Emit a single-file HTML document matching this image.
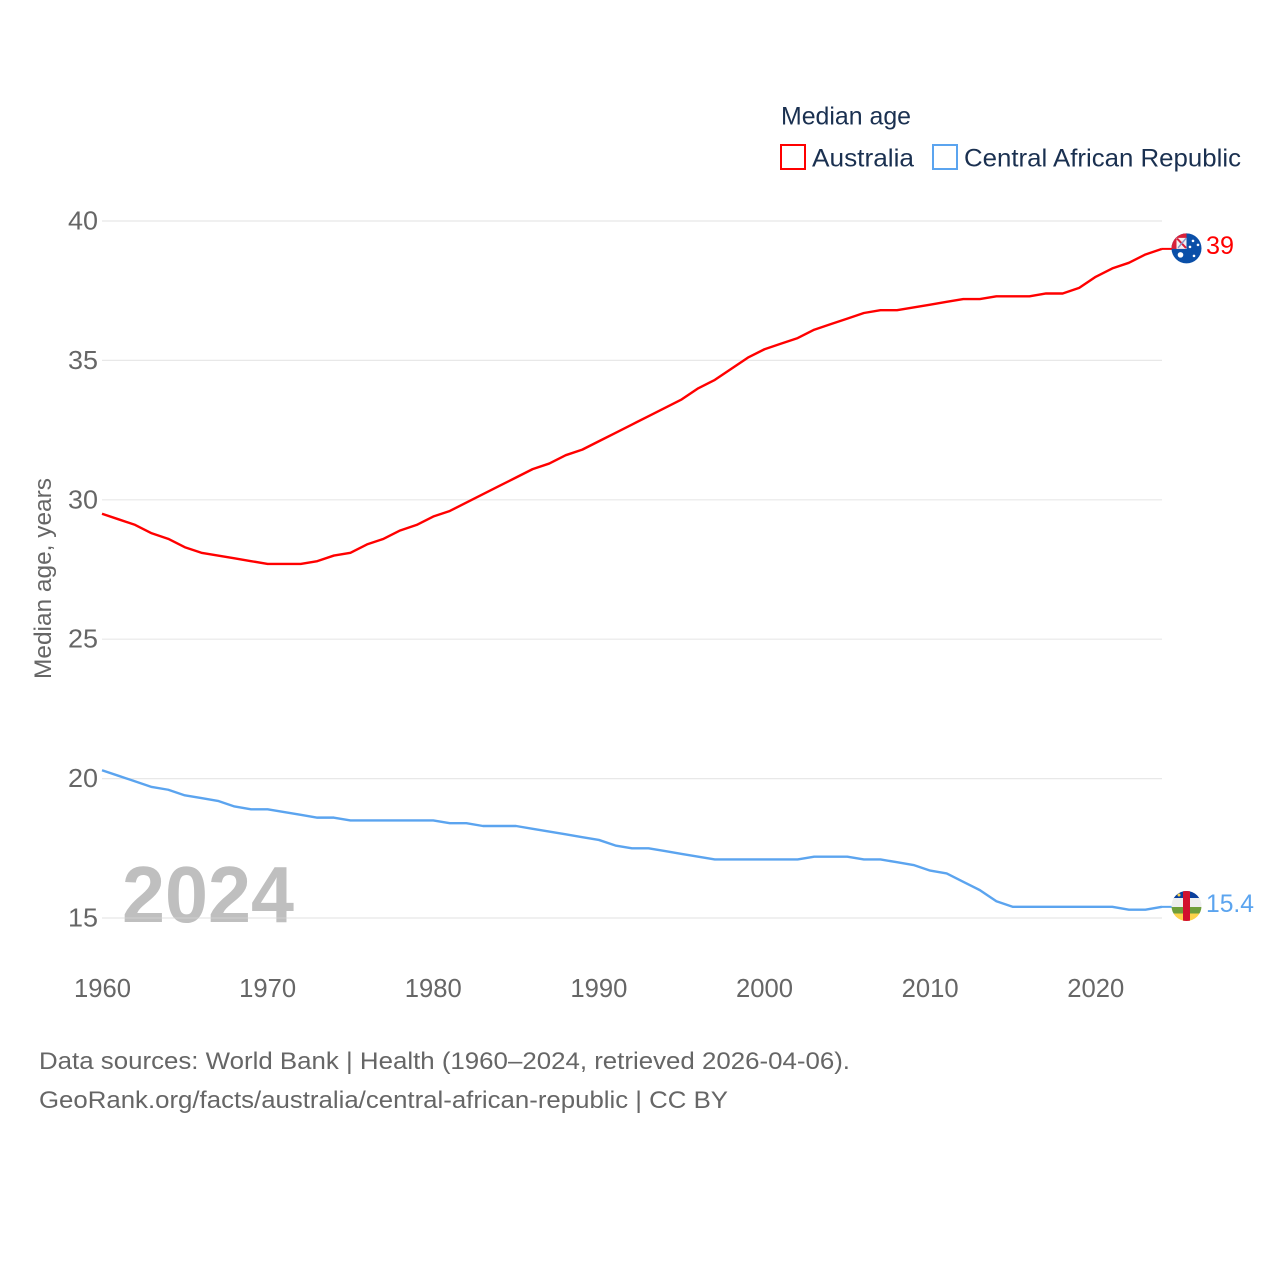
<!DOCTYPE html>
<html lang="en">
<head>
<meta charset="utf-8">
<title>Median age: Australia vs Central African Republic</title>
<style>
html,body{margin:0;padding:0;background:#fff;width:1280px;height:1280px;overflow:hidden}
svg{display:block}
text{font-family:"Liberation Sans",sans-serif}
</style>
</head>
<body>
<svg id="chart" xmlns="http://www.w3.org/2000/svg" width="1280" height="1280" viewBox="0 0 1280 1280">
  <defs>
    <clipPath id="clip-au"><circle id="clip-au-circle" cx="1186.5" cy="248.5" r="15"/></clipPath>
    <clipPath id="clip-cf"><circle id="clip-cf-circle" cx="1186.5" cy="906" r="15"/></clipPath>
  </defs>
  <rect width="1280" height="1280" fill="#fff"/>

  <text x="781" y="124.5" font-size="25" fill="#1a3050" textLength="130" lengthAdjust="spacingAndGlyphs">Median age</text>
  <rect x="781" y="145" width="24" height="24" fill="none" stroke="#ff0000" stroke-width="2"/>
  <text x="812" y="166.5" font-size="25" fill="#1a3050" textLength="102" lengthAdjust="spacingAndGlyphs">Australia</text>
  <rect x="933" y="145" width="24" height="24" fill="none" stroke="#5ba4ef" stroke-width="2"/>
  <text x="964" y="166.5" font-size="25" fill="#1a3050" textLength="277" lengthAdjust="spacingAndGlyphs">Central African Republic</text>

  <text transform="translate(51,679) rotate(-90)" font-size="24" fill="#666666" textLength="201" lengthAdjust="spacingAndGlyphs">Median age, years</text>

  <g id="grid"></g>
  <g id="y-ticks"></g>
  <g id="x-ticks"></g>

  <text x="122" y="922" font-size="80" font-weight="700" fill="#bfbfbf" textLength="172" lengthAdjust="spacingAndGlyphs">2024</text>
  <path id="grid-15-overlay" fill="none" stroke="#e8e8e8" stroke-opacity="0.4" stroke-width="1"/>

  <path id="line-au" fill="none" stroke="#ff0000" stroke-width="2.4" stroke-linejoin="round"/>
  <path id="line-cf" fill="none" stroke="#5ba4ef" stroke-width="2.4" stroke-linejoin="round"/>
  <path id="conn-au" fill="none" stroke="#ff0000" stroke-width="2"/>
  <path id="conn-cf" fill="none" stroke="#5ba4ef" stroke-width="2"/>

  <g id="flag-au">
    <g clip-path="url(#clip-au)">
      <rect x="1171" y="233" width="31" height="31" fill="#0a4fa8"/>
      <rect x="1171" y="233" width="15.5" height="16" fill="#d8203a"/>
      <rect x="1176.5" y="238" width="10" height="11" fill="#f4f0f2"/>
      <path d="M1177 238.5 L1186 248" stroke="#d8203a" stroke-width="2"/>
      <path d="M1186 238.5 L1178 248" stroke="#8a98c8" stroke-width="1.4"/>
      <circle cx="1180.5" cy="255" r="2.8" fill="#fff"/>
      <circle cx="1193" cy="241" r="1.3" fill="#fff"/>
      <circle cx="1198" cy="245" r="1.3" fill="#fff"/>
      <circle cx="1190" cy="247" r="1.3" fill="#fff"/>
      <circle cx="1194" cy="256" r="1.3" fill="#fff"/>
    </g>
  </g>
  <text id="label-au" x="1206" y="254" font-size="25" fill="#ff0000" textLength="28" lengthAdjust="spacingAndGlyphs"></text>

  <g id="flag-cf">
    <g clip-path="url(#clip-cf)">
      <rect x="1171" y="890" width="31" height="8.5" fill="#0a3f9c"/>
      <rect x="1171" y="898" width="31" height="9" fill="#eeeeee"/>
      <rect x="1171" y="907" width="31" height="6.5" fill="#6f9e3a"/>
      <rect x="1171" y="913.5" width="31" height="9" fill="#fcd34a"/>
      <rect x="1183" y="890" width="7" height="33" fill="#d2102e"/>
      <circle cx="1179" cy="895" r="1.5" fill="#fcd34a"/>
    </g>
  </g>
  <text id="label-cf" x="1206" y="912" font-size="25" fill="#5ba4ef" textLength="48" lengthAdjust="spacingAndGlyphs"></text>

  <text x="39" y="1069" font-size="24.5" fill="#666666" textLength="811" lengthAdjust="spacingAndGlyphs">Data sources: World Bank | Health (1960–2024, retrieved 2026-04-06).</text>
  <text x="39" y="1108" font-size="24.5" fill="#666666" textLength="689" lengthAdjust="spacingAndGlyphs">GeoRank.org/facts/australia/central-african-republic | CC BY</text>
</svg>
<script>
const startYear = 1960;
const yTickValues = [15, 20, 25, 30, 35, 40];
const xTickValues = [1960, 1970, 1980, 1990, 2000, 2010, 2020];
const australia = [29.5,29.3,29.1,28.8,28.6,28.3,28.1,28.0,27.9,27.8,
  27.7,27.7,27.7,27.8,28.0,28.1,28.4,28.6,28.9,29.1,
  29.4,29.6,29.9,30.2,30.5,30.8,31.1,31.3,31.6,31.8,
  32.1,32.4,32.7,33.0,33.3,33.6,34.0,34.3,34.7,35.1,
  35.4,35.6,35.8,36.1,36.3,36.5,36.7,36.8,36.8,36.9,
  37.0,37.1,37.2,37.2,37.3,37.3,37.3,37.4,37.4,37.6,
  38.0,38.3,38.5,38.8,39.0];
const centralAfricanRepublic = [20.3,20.1,19.9,19.7,19.6,19.4,19.3,19.2,19.0,18.9,
  18.9,18.8,18.7,18.6,18.6,18.5,18.5,18.5,18.5,18.5,
  18.5,18.4,18.4,18.3,18.3,18.3,18.2,18.1,18.0,17.9,
  17.8,17.6,17.5,17.5,17.4,17.3,17.2,17.1,17.1,17.1,
  17.1,17.1,17.1,17.2,17.2,17.2,17.1,17.1,17.0,16.9,
  16.7,16.6,16.3,16.0,15.6,15.4,15.4,15.4,15.4,15.4,
  15.4,15.4,15.3,15.3,15.4];

const SVGNS = 'http://www.w3.org/2000/svg';
function xScale(year) { return 102 + (year - 1960) * (1162 - 102) / 64; }
function yScale(v) { return 918 - (v - 15) * (918 - 221) / 25; }
function linePath(vals) {
  return vals.map(function (v, i) {
    return (i ? 'L' : 'M') + xScale(startYear + i).toFixed(2) + ' ' + yScale(v).toFixed(2);
  }).join(' ');
}

const gridG = document.getElementById('grid');
const yG = document.getElementById('y-ticks');
yTickValues.forEach(function (v) {
  const ln = document.createElementNS(SVGNS, 'line');
  
  
  ln.setAttribute('x1', 102);
  ln.setAttribute('x2', 1162);
  ln.setAttribute('y1', yScale(v));
  ln.setAttribute('y2', yScale(v));
  ln.setAttribute('stroke', '#e8e8e8');
  ln.setAttribute('stroke-width', '1.2');
  gridG.appendChild(ln);
  const t = document.createElementNS(SVGNS, 'text');
  
  
  t.setAttribute('x', 68);
  t.setAttribute('y', yScale(v) + 8.5);
  t.setAttribute('font-size', '26');
  t.setAttribute('fill', '#666666');
  t.setAttribute('textLength', '30');
  t.setAttribute('lengthAdjust', 'spacingAndGlyphs');
  t.textContent = v;
  yG.appendChild(t);
});

const xG = document.getElementById('x-ticks');
xTickValues.forEach(function (y) {
  const t = document.createElementNS(SVGNS, 'text');
  
  
  t.setAttribute('x', y === 1960 ? 74 : xScale(y) - 28.5);
  t.setAttribute('y', 997);
  t.setAttribute('font-size', '25.5');
  t.setAttribute('fill', '#666666');
  t.setAttribute('textLength', '57');
  t.setAttribute('lengthAdjust', 'spacingAndGlyphs');
  t.textContent = y;
  xG.appendChild(t);
});

document.getElementById('grid-15-overlay').setAttribute('d', 'M102 ' + yScale(15) + ' H1162');
document.getElementById('line-au').setAttribute('d', linePath(australia));
document.getElementById('line-cf').setAttribute('d', linePath(centralAfricanRepublic));

const lastAu = australia[australia.length - 1];
const lastCf = centralAfricanRepublic[centralAfricanRepublic.length - 1];
const endX = xScale(startYear + australia.length - 1);
document.getElementById('conn-au').setAttribute('d', 'M' + endX + ' ' + yScale(lastAu) + ' H1172');
document.getElementById('conn-cf').setAttribute('d', 'M' + endX + ' ' + yScale(lastCf) + ' H1172');
document.getElementById('label-au').textContent = lastAu;
document.getElementById('label-cf').textContent = lastCf;
document.getElementById('label-au').setAttribute('y', yScale(lastAu) + 5);
document.getElementById('label-cf').setAttribute('y', yScale(lastCf) + 5);
document.getElementById('flag-au').setAttribute('transform', 'translate(0,' + (yScale(lastAu) - 249) + ')');
document.getElementById('flag-cf').setAttribute('transform', 'translate(0,' + (yScale(lastCf) - 906.85) + ')');
</script>
</body>
</html>
